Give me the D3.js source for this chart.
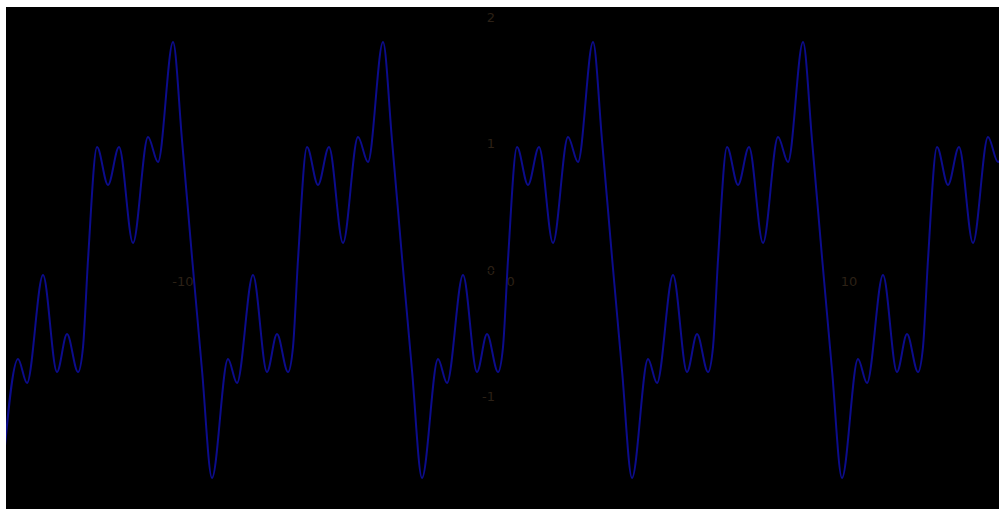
<!DOCTYPE html>
<html>
<head>
<meta charset="utf-8">
<script src="https://cdn.jsdelivr.net/npm/d3@7"></script>
<style>
  html, body { margin: 0; padding: 0; background: #ffffff; }
  svg { display: block; }
  text { font-family: "DejaVu Sans", sans-serif; }
</style>
</head>
<body>
<svg id="chart" width="999" height="509"></svg>
<script>
// ---- data ----
const xTickValues = [-10, 0, 10];
const yTickValues = [-1, 0, 1, 2];

const curveX = [
  -14.901, -14.422, -14.153, -13.674, -13.255, -12.956, -12.627, -12.477, -12.328, -12.058, -11.729, -11.400, -10.981, -10.532, -10.233, -9.784, -9.515, -9.216, -8.917,
  -8.618, -8.139, -7.870, -7.391, -6.972, -6.673, -6.344, -6.194, -6.045, -5.775, -5.446, -5.117, -4.698, -4.249, -3.950, -3.501, -3.232, -2.933, -2.634,
  -2.334, -1.855, -1.586, -1.107, -0.688, -0.389, -0.060, 0.090, 0.239, 0.509, 0.838, 1.167, 1.586, 2.035, 2.334, 2.783, 3.052, 3.351, 3.650,
  3.950, 4.429, 4.698, 5.177, 5.596, 5.895, 6.224, 6.374, 6.523, 6.793, 7.122, 7.451, 7.870, 8.319, 8.618, 9.067, 9.336, 9.635, 9.934,
  10.233, 10.712, 10.981, 11.460, 11.879, 12.178, 12.507, 12.657, 12.806, 13.076, 13.405, 13.734, 14.153, 14.602, 14.901, 15.350
];
const curveY = [
  -1.647, -0.705, -0.895, -0.040, -0.808, -0.507, -0.808, -0.610, 0.079, 0.974, 0.673, 0.974, 0.214, 1.053, 0.855, 1.805, 1.029, 0.103, -0.792,
  -1.647, -0.705, -0.895, -0.040, -0.808, -0.507, -0.808, -0.610, 0.079, 0.974, 0.673, 0.974, 0.214, 1.053, 0.855, 1.805, 1.029, 0.103, -0.792,
  -1.647, -0.705, -0.895, -0.040, -0.808, -0.507, -0.808, -0.610, 0.079, 0.974, 0.673, 0.974, 0.214, 1.053, 0.855, 1.805, 1.029, 0.103, -0.792,
  -1.647, -0.705, -0.895, -0.040, -0.808, -0.507, -0.808, -0.610, 0.079, 0.974, 0.673, 0.974, 0.214, 1.053, 0.855, 1.805, 1.029, 0.103, -0.792,
  -1.647, -0.705, -0.895, -0.040, -0.808, -0.507, -0.808, -0.610, 0.079, 0.974, 0.673, 0.974, 0.214, 1.053, 0.855, 1.805
];

// ---- layout ----
const svg = d3.select("#chart");
const W = 999, H = 509;
const plot = { left: 6, top: 7, right: W, bottom: H };
const x0 = 500, pxPerX = 33.42;
const y0 = 270, pxPerY = 126.3;

const x = d3.scaleLinear().domain([-15, 15]).range([x0 - 15 * pxPerX, x0 + 15 * pxPerX]);
const y = d3.scaleLinear().domain([-2, 2]).range([y0 + 2 * pxPerY, y0 - 2 * pxPerY]);

svg.append("rect")
  .attr("x", plot.left).attr("y", plot.top)
  .attr("width", plot.right - plot.left).attr("height", plot.bottom - plot.top)
  .attr("fill", "#000000");

svg.append("clipPath").attr("id", "clip")
  .append("rect")
  .attr("x", plot.left).attr("y", plot.top)
  .attr("width", plot.right - plot.left).attr("height", plot.bottom - plot.top);

const fmt = d => String(d); // plain hyphen-minus like the reference
const labelColor = "#2c2116";

const axesG = svg.append("g").attr("clip-path", "url(#clip)");

const yAxis = d3.axisLeft(y).tickValues(yTickValues).tickFormat(fmt).tickSize(0).tickPadding(5);
const gy = axesG.append("g").attr("transform", `translate(${x(0)},0)`).call(yAxis);
gy.select(".domain").attr("stroke", "#000000");
gy.selectAll("text").attr("fill", labelColor).attr("font-size", 13).attr("font-family", "DejaVu Sans, sans-serif");

const xAxis = d3.axisBottom(x).tickValues(xTickValues).tickFormat(fmt).tickSize(0);
const gx = axesG.append("g").attr("transform", `translate(0,${y(0)})`).call(xAxis);
gx.select(".domain").attr("stroke", "#000000");
gx.selectAll("text")
  .attr("fill", labelColor)
  .attr("font-size", 13)
  .attr("font-family", "DejaVu Sans, sans-serif")
  .attr("text-anchor", "start")
  .attr("x", 6)
  .attr("y", 11)
  .attr("dy", "0.35em");

// curve
const pts = curveX.map((v, i) => [v, curveY[i]]);
const line = d3.line()
  .x(d => x(d[0]))
  .y(d => y(d[1]))
  .curve(d3.curveMonotoneX);

svg.append("path")
  .attr("clip-path", "url(#clip)")
  .attr("d", line(pts))
  .attr("fill", "none")
  .attr("stroke", "#0c0c8c")
  .attr("stroke-width", 2);
</script>
</body>
</html>
